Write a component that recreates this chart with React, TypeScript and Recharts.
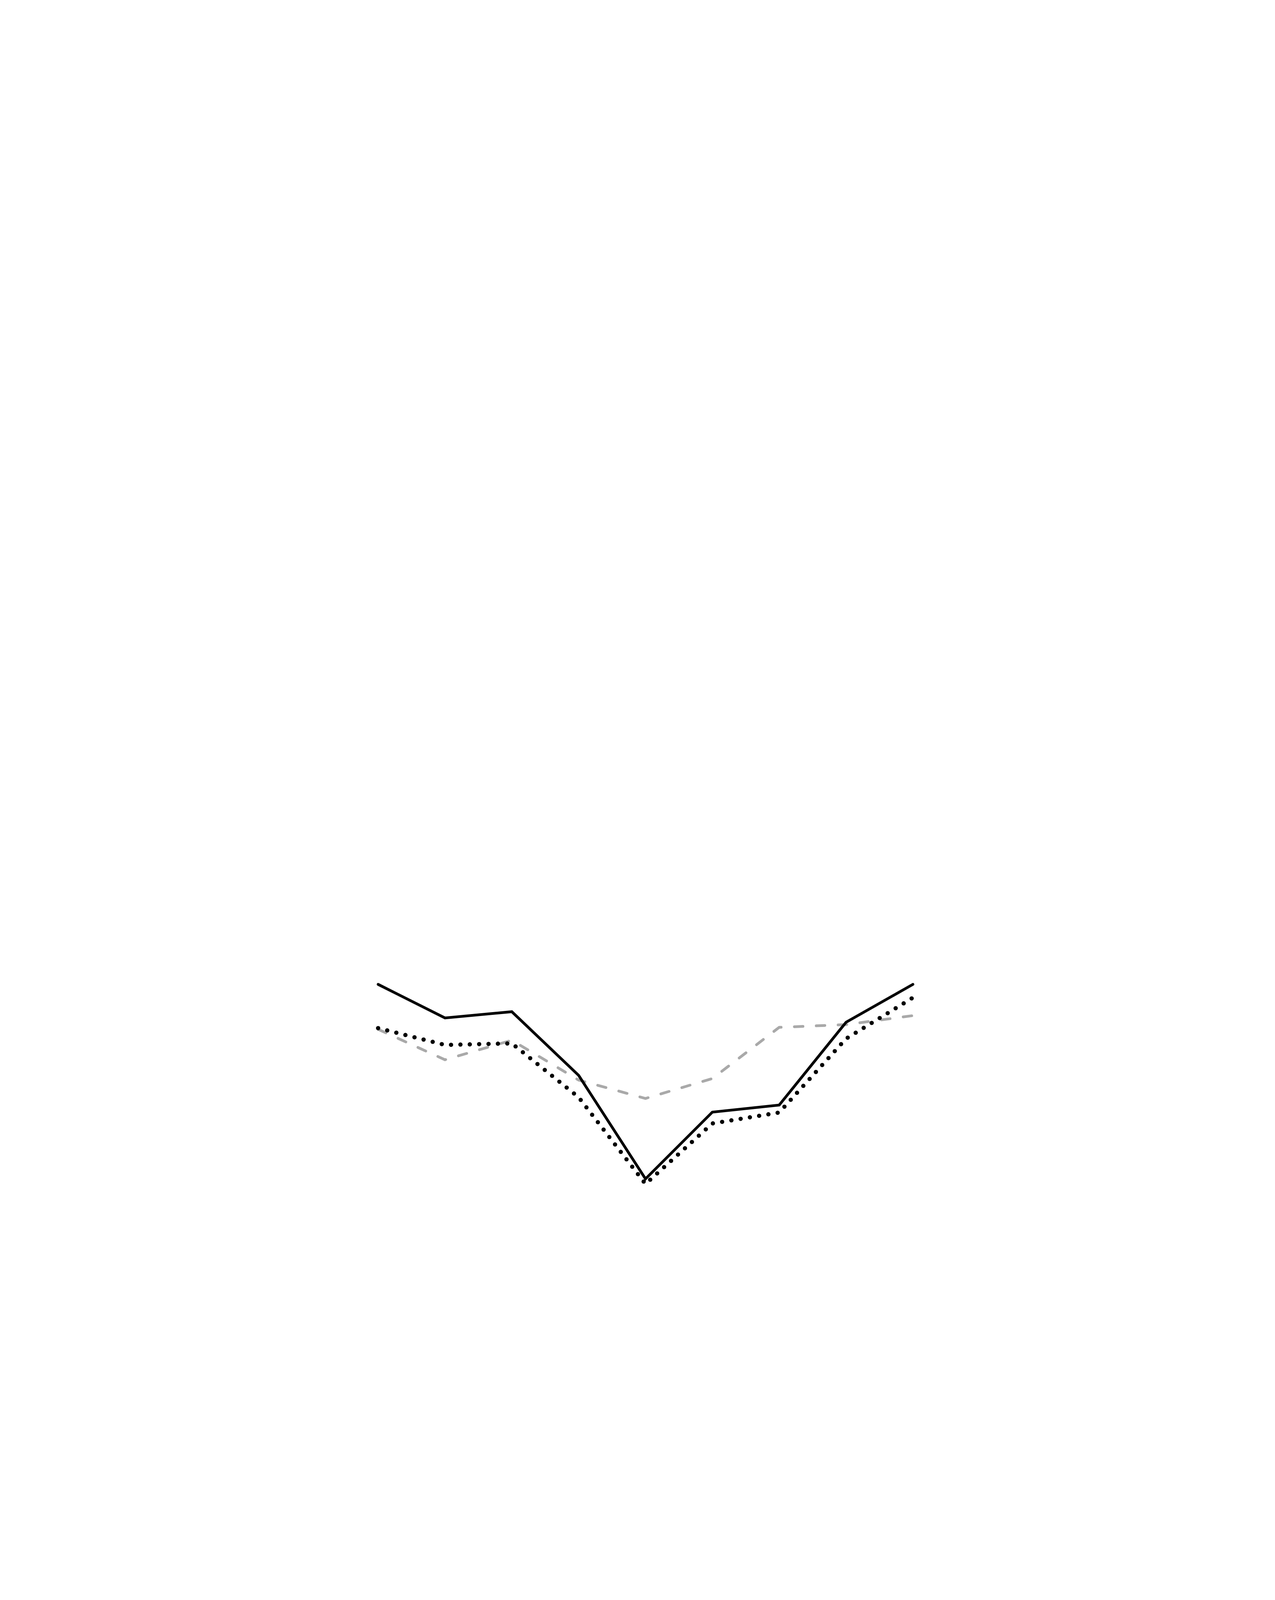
import { LineChart, Line, XAxis, YAxis } from 'recharts';

// nothing but the three lines is drawn, no axes, grid, labels or legend
const points = [0, 1, 2, 3, 4, 5, 6, 7, 8];
const solidSeries = [580, 494, 510, 347, 82, 253, 271, 483, 580];
const dottedSeries = [468, 425, 429, 291, 69, 224, 252, 441, 546];
const dashedSeries = [465, 387, 437, 335, 288, 339, 470, 477, 500];

const data = points.map((p, i) => ({
  idx: p,
  solid: solidSeries[i],
  dotted: dottedSeries[i],
  dashed: dashedSeries[i],
}));

export default function App() {
  return (
    <div style={{ position: 'absolute', left: 0, top: 0, width: 3264, height: 4224, background: '#fff' }}>
      <LineChart
        width={3264}
        height={4224}
        data={data}
        margin={{ top: 2500, right: 927, left: 968, bottom: 1124 }}
      >
        <XAxis dataKey="idx" type="number" domain={[0, 8]} hide />
        <YAxis type="number" domain={[0, 600]} hide />
        <Line
          dataKey="dashed"
          type="linear"
          stroke="#a9a9a9"
          strokeWidth={7}
          strokeDasharray="22 34"
          strokeLinecap="round"
          dot={false}
          isAnimationActive={false}
        />
        <Line
          dataKey="dotted"
          type="linear"
          stroke="#000"
          strokeWidth={11}
          strokeDasharray="0 24"
          strokeLinecap="round"
          dot={false}
          isAnimationActive={false}
        />
        <Line
          dataKey="solid"
          type="linear"
          stroke="#000"
          strokeWidth={7}
          strokeLinecap="round"
          strokeLinejoin="miter"
          dot={false}
          isAnimationActive={false}
        />
      </LineChart>
    </div>
  );
}
